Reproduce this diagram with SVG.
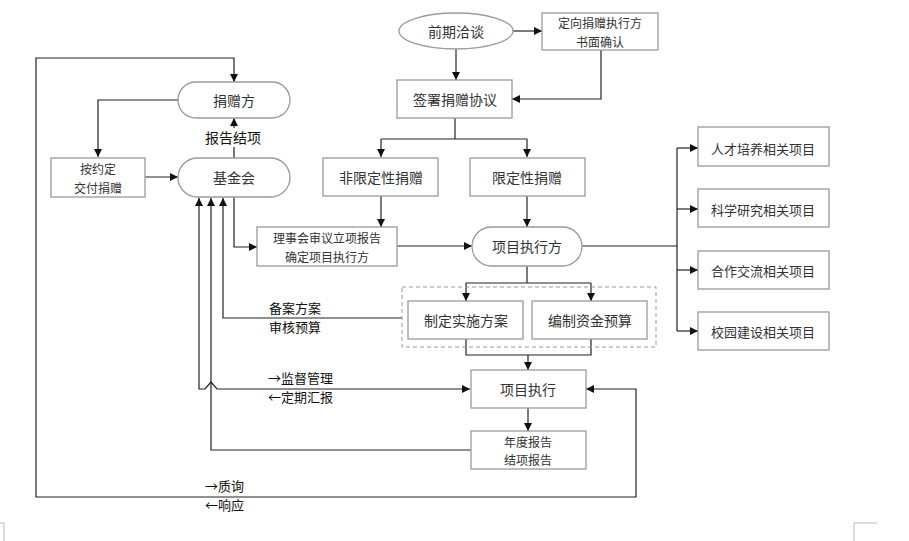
<svg xmlns="http://www.w3.org/2000/svg" width="909" height="541" viewBox="0 0 909 541">
<style>
.box{fill:#fff;stroke:#9a9a9a;stroke-width:1.3}
.t{font-family:"Noto Sans CJK SC","Noto Sans",sans-serif;font-size:14px;fill:#333;text-anchor:middle;dominant-baseline:central}
.s{font-size:13px}
.m{font-size:12px}
.lb{font-family:"Noto Sans CJK SC","Noto Sans",sans-serif;font-size:14px;fill:#111;dominant-baseline:central}
.l2{font-size:13px}
.c{fill:none;stroke:#222;stroke-width:1.2}
.a{marker-end:url(#ar)}
.b{marker-start:url(#ar);marker-end:url(#ar)}
</style>
<defs>
<marker id="ar" viewBox="0 0 10 10" refX="10" refY="5" markerWidth="8" markerHeight="8" markerUnits="userSpaceOnUse" orient="auto-start-reverse"><path d="M0,0 L10,5 L0,10 z" fill="#111"/></marker>
</defs>
<rect width="909" height="541" fill="#fff"/>

<g id="connectors">
<path class="c a" d="M513,31 H542"/>
<path class="c a" d="M456,49 V80"/>
<path class="c a" d="M601,50 V99 H512"/>
<path class="c" d="M455,118 V139 M381,139 H527"/>
<path class="c a" d="M381,139 V157"/>
<path class="c a" d="M527,139 V157"/>
<path class="c a" d="M178,100 H98 V157"/>
<path class="c a" d="M145,177 H178"/>
<path class="c a" d="M234,158 V118"/>
<path class="c a" d="M381,196 V227"/>
<path class="c a" d="M527,196 V227"/>
<path class="c a" d="M234,197 V247 H257"/>
<path class="c a" d="M397,246 H472"/>
<path class="c" d="M582,246 H677 M677,148 V331"/>
<path class="c a" d="M677,148 H698"/>
<path class="c a" d="M677,209 H698"/>
<path class="c a" d="M677,270 H698"/>
<path class="c a" d="M677,331 H698"/>
<path class="c" d="M527,266 V283 M466,283 H591"/>
<path class="c a" d="M466,283 V301"/>
<path class="c a" d="M591,283 V301"/>
<path class="c" d="M466,339 V355 H591 V339"/>
<path class="c a" d="M528,355 V370"/>
<path class="c a" d="M528,408 V431"/>
<path class="c a" d="M402,318 H223 V198"/>
<path class="c a" d="M471,450 H211 V198"/>
<path class="c b" d="M470,389 H217 L211,382 L205,389 H199 V198"/>
<path class="c b" d="M586,389 H636 V497 H36 V58 H234 V82"/>
</g>

<g id="label-report">
<rect x="204" y="128" width="60" height="19" fill="#fff"/>
<text class="lb" x="205" y="137">报告结项</text>
</g>
<g id="label-record">
<text class="lb l2" x="269" y="307">备案方案<tspan x="269" dy="19">审核预算</tspan></text>
</g>
<g id="label-supervise">
<text class="lb l2" x="268" y="377">→监督管理<tspan x="268" dy="19">←定期汇报</tspan></text>
</g>
<g id="label-query">
<text class="lb l2" x="205" y="485">→质询<tspan x="205" dy="19">←响应</tspan></text>
</g>

<g id="n-qianqi"><ellipse class="box" cx="456" cy="31" rx="57" ry="18"/><text class="t" x="456" y="31">前期洽谈</text></g>
<g id="n-dingxiang"><rect class="box" x="542" y="13" width="116" height="37"/><text class="t m" x="600" y="22.5">定向捐赠执行方<tspan x="600" dy="18">书面确认</tspan></text></g>
<g id="n-qianshu"><rect class="box" x="397" y="80" width="115" height="38"/><text class="t" x="455" y="99">签署捐赠协议</text></g>
<g id="n-juanzengfang"><rect class="box" x="178" y="82" width="112" height="36" rx="18"/><text class="t" x="234" y="100">捐赠方</text></g>
<g id="n-anyueding"><rect class="box" x="51" y="158" width="94" height="39"/><text class="t m" x="98" y="168.5">按约定<tspan x="98" dy="18">交付捐赠</tspan></text></g>
<g id="n-jijinhui"><rect class="box" x="178" y="158" width="112" height="39" rx="19.5"/><text class="t" x="234" y="177">基金会</text></g>
<g id="n-feixianding"><rect class="box" x="323" y="158" width="115" height="38"/><text class="t" x="381" y="177">非限定性捐赠</text></g>
<g id="n-xianding"><rect class="box" x="470" y="158" width="115" height="38"/><text class="t" x="527" y="177">限定性捐赠</text></g>
<g id="n-lishihui"><rect class="box" x="257" y="227" width="140" height="39"/><text class="t m" x="327" y="237.5">理事会审议立项报告<tspan x="327" dy="18">确定项目执行方</tspan></text></g>
<g id="n-zhixingfang"><rect class="box" x="472" y="227" width="110" height="39" rx="19.5"/><text class="t" x="527" y="246">项目执行方</text></g>
<g id="n-rencai"><rect class="box" x="698" y="127" width="131" height="39"/><text class="t s" x="763" y="148">人才培养相关项目</text></g>
<g id="n-kexue"><rect class="box" x="698" y="189" width="131" height="38"/><text class="t s" x="763" y="209">科学研究相关项目</text></g>
<g id="n-hezuo"><rect class="box" x="698" y="251" width="131" height="38"/><text class="t s" x="763" y="270">合作交流相关项目</text></g>
<g id="n-xiaoyuan"><rect class="box" x="698" y="312" width="131" height="38"/><text class="t s" x="763" y="331">校园建设相关项目</text></g>
<g id="g-plan"><rect x="402" y="287" width="254" height="60" fill="none" stroke="#999" stroke-width="1" stroke-dasharray="4,3"/></g>
<g id="n-shishi"><rect class="box" x="408" y="301" width="115" height="38"/><text class="t" x="466" y="320">制定实施方案</text></g>
<g id="n-yusuan"><rect class="box" x="532" y="301" width="115" height="38"/><text class="t" x="590" y="320">编制资金预算</text></g>
<g id="n-zhixing"><rect class="box" x="471" y="370" width="115" height="38"/><text class="t" x="528" y="389">项目执行</text></g>
<g id="n-niandu"><rect class="box" x="471" y="431" width="115" height="38"/><text class="t m" x="528" y="441">年度报告<tspan x="528" dy="18">结项报告</tspan></text></g>

<g id="corner-marks" fill="none" stroke="#bbb" stroke-width="1">
<path d="M0,523 H4 V541"/>
<path d="M877,523 H854 V541"/>
</g>
</svg>
